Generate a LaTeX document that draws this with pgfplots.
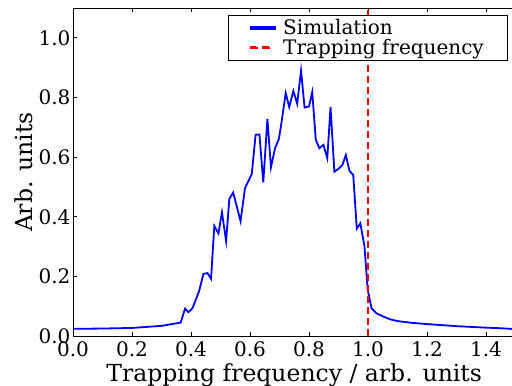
\documentclass[border=0pt]{standalone}
\usepackage{fontspec}
\setmainfont{DejaVu Serif}
\usepackage{pgfplots}
\pgfplotsset{compat=1.18}
\begin{document}
\begin{tikzpicture}
\begin{axis}[
  scale only axis,
  width=442.5pt, height=328pt,
  xmin=0, xmax=1.5, ymin=0, ymax=1.1,
  xtick={0,0.2,...,1.41}, ytick={0,0.2,...,1.01},
  /pgf/number format/assume math mode=true,
  /pgf/number format/fixed,
  /pgf/number format/fixed zerofill,
  /pgf/number format/precision=1,
  font=\fontsize{20}{24}\selectfont,
  tick label style={font=\fontsize{20}{24}\selectfont},
  tick style={black, line width=0.8pt},
  major tick length=4pt,
  axis line style={line width=0.8pt},
  xticklabel style={yshift=-2pt},
  yticklabel style={xshift=1pt},
  xlabel={Trapping frequency / arb. units},
  ylabel={Arb. units},
  label style={font=\fontsize{23.5}{28}\selectfont},
  xlabel style={at={(axis description cs:0.5,-0.0823)}, anchor=north, inner sep=0pt},
  ylabel style={at={(axis description cs:-0.0904,0.5)}, anchor=south, inner sep=0pt},
  legend style={at={(rel axis cs:1,1)}, anchor=north east, xshift=-8pt, yshift=-7pt,
    draw=black, font=\fontsize{20}{24}\selectfont,
    inner xsep=22pt, inner ysep=3pt, nodes={inner sep=1.5pt}, column sep=6pt, row sep=0pt},
  legend cell align=left,
]
\addplot[blue, line width=1.8pt,
  legend image code/.code={\fill[blue] (0pt,-0.8pt) rectangle (24pt,0.8pt);}] coordinates {
(0.00,0.024) (0.10,0.025) (0.20,0.027) (0.30,0.034) (0.365,0.045)
(0.380,0.092) (0.391,0.080) (0.405,0.093) (0.428,0.152) (0.442,0.208)
(0.456,0.211) (0.468,0.192) (0.479,0.369) (0.493,0.344) (0.505,0.415)
(0.519,0.318) (0.530,0.460) (0.543,0.481) (0.568,0.385) (0.583,0.496)
(0.606,0.543) (0.619,0.675) (0.632,0.676) (0.645,0.515) (0.659,0.728)
(0.671,0.566) (0.685,0.630) (0.698,0.661) (0.707,0.717) (0.721,0.815)
(0.733,0.768) (0.747,0.822) (0.760,0.779) (0.773,0.890) (0.785,0.766)
(0.800,0.770) (0.811,0.818) (0.823,0.658) (0.835,0.630) (0.849,0.641)
(0.862,0.596) (0.873,0.768) (0.886,0.551) (0.899,0.560) (0.913,0.573)
(0.925,0.607) (0.937,0.554) (0.950,0.540) (0.962,0.360) (0.974,0.378)
(0.988,0.301) (0.999,0.155) (1.012,0.093) (1.029,0.076) (1.052,0.065)
(1.075,0.056) (1.10,0.050) (1.15,0.044) (1.20,0.040) (1.30,0.033)
(1.40,0.028) (1.45,0.026) (1.50,0.023)
};
\addlegendentry{Simulation}
\addplot[red, line width=1.8pt, dash pattern=on 7pt off 4pt,
  legend image code/.code={\fill[red] (0pt,-0.8pt) rectangle (7pt,0.8pt);
    \fill[red] (12.5pt,-0.8pt) rectangle (19.5pt,0.8pt);
    \path (24pt,0pt);}] coordinates {(1,0) (1,1.1)};
\addlegendentry{Trapping frequency}
\end{axis}
\pgfresetboundingbox
\path (-73pt,-50pt) rectangle (439pt,336pt);
\end{tikzpicture}
\end{document}
